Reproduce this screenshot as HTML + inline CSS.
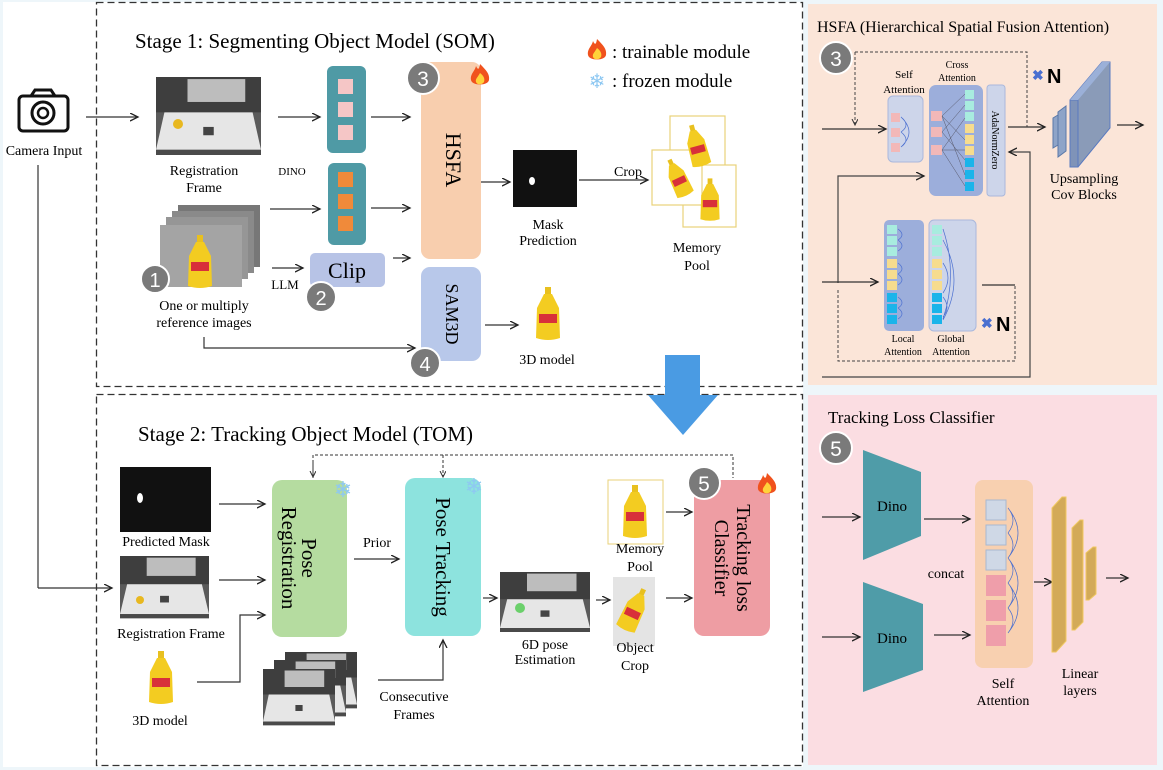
<!DOCTYPE html>
<html><head><meta charset="utf-8"><style>
html,body{margin:0;padding:0;background:#fff;}
svg{display:block;font-family:"Liberation Serif",serif;}
.s{font-family:"Liberation Sans",sans-serif;}
</style></head><body>
<svg width="1163" height="770" viewBox="0 0 1163 770" xmlns="http://www.w3.org/2000/svg">
<defs>
<marker id="a" markerWidth="10" markerHeight="10" refX="8" refY="4" orient="auto" markerUnits="userSpaceOnUse"><path d="M0,0 L8,4 L0,8" fill="none" stroke="#222" stroke-width="1.3"/></marker>
<marker id="as" markerWidth="8" markerHeight="8" refX="6" refY="3" orient="auto" markerUnits="userSpaceOnUse"><path d="M0,0 L6,3 L0,6" fill="none" stroke="#333" stroke-width="1"/></marker>
<g id="photo">
<rect x="0" y="0" width="100" height="75" fill="#5a5a5a"/>
<rect x="0" y="0" width="100" height="34" fill="#3e3e3e"/>
<rect x="30" y="2" width="55" height="22" fill="#bdbdbd"/>
<polygon points="8,34 92,34 100,70 0,70" fill="#e6e6e6"/>
<rect x="45" y="48" width="10" height="8" fill="#444"/>
<rect x="0" y="70" width="100" height="5" fill="#4a4a4a"/>
</g>
<g id="flame">
<path d="M0,-12 C6,-6 10,-2 9,4 C8,10 -8,10 -9,4 C-10,-2 -5,-5 -4,-10 C-2,-6 -1,-6 0,-12Z" fill="#f0521d"/>
<path d="M0,-3 C4,0 5,3 4,6 C2,9 -3,9 -4,6 C-5,3 -2,1 0,-3Z" fill="#ffd23a"/>
</g>
<g id="mustard">
<rect x="-3" y="-27" width="6" height="8" fill="#e8c01f"/>
<path d="M-4,-20 L4,-20 L11,-6 L12,24 Q0,28 -12,24 L-11,-6Z" fill="#f3cc21"/>
<rect x="-9" y="0" width="18" height="9" fill="#d8303a"/>
</g>
</defs>

<rect x="0" y="0" width="1163" height="770" fill="#eef6fa"/>
<rect x="3" y="2" width="800" height="765" fill="#fff"/>

<rect x="96.5" y="2.5" width="706" height="384" fill="none" stroke="#333" stroke-width="1.3" stroke-dasharray="7,4"/>
<rect x="96.5" y="394.5" width="706" height="371" fill="none" stroke="#333" stroke-width="1.3" stroke-dasharray="7,4"/>

<rect x="19" y="96" width="49" height="35" rx="4" fill="none" stroke="#111" stroke-width="3"/>
<path d="M31,96 L35,90 L51,90 L55,96" fill="none" stroke="#111" stroke-width="3"/>
<circle cx="43" cy="113" r="11" fill="none" stroke="#111" stroke-width="3"/>
<circle cx="43" cy="113" r="5" fill="none" stroke="#111" stroke-width="2.5"/>
<text x="44" y="155" font-size="14" text-anchor="middle">Camera Input</text>
<line x1="38" y1="165" x2="38" y2="588" stroke="#333" stroke-width="1.2"/>
<line x1="38" y1="588" x2="112" y2="588" stroke="#333" stroke-width="1.2" marker-end="url(#a)"/>
<line x1="86" y1="117" x2="138" y2="117" stroke="#333" stroke-width="1.2" marker-end="url(#a)"/>

<text x="135" y="48" font-size="21">Stage 1: Segmenting Object Model (SOM)</text>
<use href="#flame" x="597" y="51"/>
<text x="612" y="58" font-size="19">: trainable module</text>
<text x="597" y="88" font-size="20" fill="#8ec8f2" text-anchor="middle" class="s">❄</text>
<text x="612" y="87" font-size="19">: frozen module</text>

<use href="#photo" transform="translate(156,77) scale(1.05,1.04)"/>
<circle cx="178" cy="124" r="5" fill="#e8b820"/>
<text x="204" y="175" font-size="14" text-anchor="middle">Registration</text>
<text x="204" y="192" font-size="14" text-anchor="middle">Frame</text>
<text x="292" y="175" font-size="11" text-anchor="middle">DINO</text>

<line x1="278" y1="117" x2="320" y2="117" stroke="#333" stroke-width="1.2" marker-end="url(#a)"/>
<rect x="327" y="66" width="39" height="87" rx="6" fill="#4f9aa5"/>
<rect x="338" y="79" width="15" height="15" fill="#f5c6c6"/><rect x="338" y="102" width="15" height="15" fill="#f5c6c6"/><rect x="338" y="125" width="15" height="15" fill="#f5c6c6"/>
<line x1="371" y1="117" x2="410" y2="117" stroke="#333" stroke-width="1.2" marker-end="url(#a)"/>

<g transform="translate(160,205)">
<rect x="18" y="0" width="82" height="62" fill="#777"/>
<rect x="12" y="6" width="82" height="62" fill="#8a8a8a"/>
<rect x="6" y="12" width="82" height="62" fill="#969696"/>
<rect x="0" y="20" width="82" height="62" fill="#a4a4a4"/>
</g>
<use href="#mustard" x="200" y="262"/>
<line x1="270" y1="209" x2="320" y2="209" stroke="#333" stroke-width="1.2" marker-end="url(#a)"/>
<rect x="328" y="163" width="38" height="82" rx="6" fill="#4f9aa5"/>
<rect x="338" y="172" width="15" height="15" fill="#f08a3a"/><rect x="338" y="194" width="15" height="15" fill="#f08a3a"/><rect x="338" y="216" width="15" height="15" fill="#f08a3a"/>
<line x1="371" y1="208" x2="410" y2="208" stroke="#333" stroke-width="1.2" marker-end="url(#a)"/>
<circle cx="155" cy="279" r="14" fill="#7a7a7a" stroke="#fff" stroke-width="2"/>
<text x="155" y="287" font-size="20" fill="#fff" text-anchor="middle" class="s">1</text>
<text x="204" y="310" font-size="14" text-anchor="middle">One or  multiply</text>
<text x="204" y="327" font-size="14" text-anchor="middle">reference images</text>

<line x1="272" y1="268" x2="303" y2="268" stroke="#333" stroke-width="1.2" marker-end="url(#a)"/>
<text x="285" y="289" font-size="13" text-anchor="middle">LLM</text>
<rect x="310" y="253" width="75" height="34" rx="5" fill="#b7c3e6"/>
<text x="347" y="278" font-size="22" text-anchor="middle">Clip</text>
<circle cx="321" cy="297" r="15" fill="#7a7a7a" stroke="#fff" stroke-width="2"/>
<text x="321" y="305" font-size="20" fill="#fff" text-anchor="middle" class="s">2</text>
<line x1="393" y1="258" x2="410" y2="258" stroke="#333" stroke-width="1.2" marker-end="url(#a)"/>

<rect x="421" y="62" width="60" height="197" rx="9" fill="#f8ceae"/>
<text transform="translate(446,160) rotate(90)" font-size="22" text-anchor="middle">HSFA</text>
<circle cx="423" cy="78" r="16" fill="#7a7a7a" stroke="#fff" stroke-width="2"/>
<text x="423" y="86" font-size="21" fill="#fff" text-anchor="middle" class="s">3</text>
<use href="#flame" x="480" y="76"/>

<rect x="421" y="267" width="60" height="94" rx="9" fill="#b8c8ea"/>
<text transform="translate(446,314) rotate(90)" font-size="18" text-anchor="middle">SAM3D</text>
<circle cx="425" cy="363" r="15" fill="#7a7a7a" stroke="#fff" stroke-width="2"/>
<text x="425" y="371" font-size="20" fill="#fff" text-anchor="middle" class="s">4</text>
<path d="M204,337 L204,348 L415,348" fill="none" stroke="#333" stroke-width="1.2" marker-end="url(#a)"/>
<line x1="485" y1="325" x2="518" y2="325" stroke="#333" stroke-width="1.2" marker-end="url(#a)"/>
<use href="#mustard" x="548" y="314"/>
<text x="547" y="364" font-size="14" text-anchor="middle">3D model</text>

<line x1="481" y1="182" x2="510" y2="182" stroke="#333" stroke-width="1.2" marker-end="url(#a)"/>
<rect x="513" y="150" width="64" height="57" fill="#111"/>
<ellipse cx="532" cy="181" rx="3" ry="4" fill="#fff"/>
<text x="548" y="229" font-size="14" text-anchor="middle">Mask</text>
<text x="548" y="245" font-size="14" text-anchor="middle">Prediction</text>
<line x1="579" y1="180" x2="648" y2="180" stroke="#333" stroke-width="1.2" marker-end="url(#a)"/>
<text x="628" y="176" font-size="14" text-anchor="middle">Crop</text>
<g stroke="#e8d27a" stroke-width="1.2" fill="#fff">
<rect x="670" y="116" width="55" height="62"/>
<rect x="683" y="165" width="53" height="62"/>
<rect x="652" y="150" width="50" height="55"/>
</g>
<use href="#mustard" transform="translate(697,146) scale(0.8) rotate(-15)"/>
<use href="#mustard" transform="translate(678,178) scale(0.75) rotate(-25)"/>
<use href="#mustard" transform="translate(710,200) scale(0.8)"/>
<text x="697" y="252" font-size="14" text-anchor="middle">Memory</text>
<text x="697" y="270" font-size="14" text-anchor="middle">Pool</text>

<polygon points="665,355 700,355 700,395 718,395 683,435 648,395 665,395" fill="#4a9be3"/>

<text x="138" y="441" font-size="21">Stage 2: Tracking Object Model (TOM)</text>
<path d="M313,478 L313,455 L733,455 L733,478" fill="none" stroke="#333" stroke-width="1" stroke-dasharray="3,2"/>
<line x1="313" y1="460" x2="313" y2="477" stroke="#333" marker-end="url(#as)"/>
<line x1="443" y1="455" x2="443" y2="477" stroke="#333" stroke-dasharray="3,2" marker-end="url(#as)"/>

<rect x="120" y="467" width="91" height="65" fill="#111"/>
<ellipse cx="140" cy="498" rx="3" ry="5" fill="#fff"/>
<text x="166" y="546" font-size="14" text-anchor="middle">Predicted Mask</text>
<use href="#photo" transform="translate(120,556) scale(0.89,0.83)"/>
<circle cx="140" cy="600" r="4" fill="#e8b820"/>
<text x="171" y="638" font-size="14" text-anchor="middle">Registration Frame</text>
<use href="#mustard" x="161" y="678"/>
<text x="160" y="725" font-size="14" text-anchor="middle">3D model</text>
<line x1="219" y1="504" x2="265" y2="504" stroke="#333" stroke-width="1.2" marker-end="url(#a)"/>
<line x1="219" y1="580" x2="265" y2="580" stroke="#333" stroke-width="1.2" marker-end="url(#a)"/>
<path d="M197,682 L240,682 L240,615 L265,615" fill="none" stroke="#333" stroke-width="1.2" marker-end="url(#a)"/>

<rect x="272" y="480" width="75" height="157" rx="10" fill="#b5dca0"/>
<text transform="translate(302,558) rotate(90)" font-size="21" text-anchor="middle">Pose</text>
<text transform="translate(282,558) rotate(90)" font-size="21" text-anchor="middle">Registration</text>
<text x="343" y="497" font-size="22" fill="#8ec8f2" text-anchor="middle" class="s">❄</text>
<text x="377" y="547" font-size="14" text-anchor="middle">Prior</text>
<line x1="354" y1="559" x2="399" y2="559" stroke="#333" stroke-width="1.2" marker-end="url(#a)"/>

<rect x="405" y="478" width="76" height="158" rx="10" fill="#8de3de"/>
<text transform="translate(436,557) rotate(90)" font-size="21" text-anchor="middle">Pose Tracking</text>
<text x="474" y="494" font-size="22" fill="#8ec8f2" text-anchor="middle" class="s">❄</text>

<g transform="translate(263,652)">
<use href="#photo" transform="translate(22,0) scale(0.72,0.75)"/>
<use href="#photo" transform="translate(11,8) scale(0.72,0.75)"/>
<use href="#photo" transform="translate(0,17) scale(0.72,0.75)"/>
</g>
<path d="M378,680 L443,680 L443,640" fill="none" stroke="#333" stroke-width="1.2" marker-end="url(#a)"/>
<text x="414" y="701" font-size="14" text-anchor="middle">Consecutive</text>
<text x="414" y="719" font-size="14" text-anchor="middle">Frames</text>

<line x1="483" y1="598" x2="497" y2="598" stroke="#333" stroke-width="1.2" marker-end="url(#a)"/>
<use href="#photo" transform="translate(500,572) scale(0.9,0.8)"/>
<circle cx="520" cy="608" r="5" fill="#6bd06b"/>
<text x="545" y="649" font-size="14" text-anchor="middle">6D pose</text>
<text x="545" y="664" font-size="14" text-anchor="middle">Estimation</text>
<line x1="596" y1="600" x2="610" y2="600" stroke="#333" stroke-width="1.2" marker-end="url(#a)"/>
<rect x="613" y="577" width="42" height="69" fill="#e4e4e4"/>
<use href="#mustard" transform="translate(634,610) scale(0.85) rotate(25)"/>
<text x="635" y="652" font-size="14" text-anchor="middle">Object</text>
<text x="635" y="670" font-size="14" text-anchor="middle">Crop</text>
<rect x="608" y="480" width="55" height="64" fill="#fff" stroke="#e8d27a"/>
<use href="#mustard" x="635" y="512"/>
<text x="640" y="553" font-size="14" text-anchor="middle">Memory</text>
<text x="640" y="571" font-size="14" text-anchor="middle">Pool</text>
<line x1="666" y1="512" x2="692" y2="512" stroke="#333" stroke-width="1.2" marker-end="url(#a)"/>
<line x1="666" y1="598" x2="692" y2="598" stroke="#333" stroke-width="1.2" marker-end="url(#a)"/>

<rect x="694" y="480" width="76" height="156" rx="10" fill="#ee9da3"/>
<text transform="translate(737,558) rotate(90)" font-size="20" text-anchor="middle">Tracking loss</text>
<text transform="translate(715,558) rotate(90)" font-size="20" text-anchor="middle">Classifier</text>
<circle cx="704" cy="483" r="16" fill="#7a7a7a" stroke="#fff" stroke-width="2"/>
<text x="704" y="491" font-size="21" fill="#fff" text-anchor="middle" class="s">5</text>
<use href="#flame" x="767" y="485"/>

<rect x="808" y="4" width="349" height="381" fill="#fbe5d8"/>
<text x="817" y="32" font-size="16">HSFA (Hierarchical Spatial Fusion Attention)</text>
<circle cx="836" cy="58" r="16" fill="#7a7a7a" stroke="#fff" stroke-width="2"/>
<text x="836" y="66" font-size="21" fill="#fff" text-anchor="middle" class="s">3</text>
<path d="M855,52 L1027,52 L1027,127" fill="none" stroke="#444" stroke-dasharray="3,2"/>
<line x1="855" y1="52" x2="855" y2="125" stroke="#444" stroke-dasharray="3,2" marker-end="url(#as)"/>
<line x1="822" y1="129" x2="886" y2="129" stroke="#333" stroke-width="1.2" marker-end="url(#a)"/>
<text x="904" y="78" font-size="11" text-anchor="middle">Self</text>
<text x="904" y="93" font-size="11" text-anchor="middle">Attention</text>
<rect x="888" y="96" width="35" height="66" rx="5" fill="#cdd5ea" stroke="#aab8dc"/>
<rect x="891" y="113" width="9" height="9" fill="#f2b8b8"/><rect x="891" y="128" width="9" height="9" fill="#f2b8b8"/><rect x="891" y="143" width="9" height="9" fill="#f2b8b8"/>
<path d="M901,117 q10,8 0,15 M901,132 q10,8 0,15 M901,117 q16,15 0,30" fill="none" stroke="#4a6fd0" stroke-width="0.7"/>
<text x="957" y="68" font-size="10" text-anchor="middle">Cross</text>
<text x="957" y="81" font-size="10" text-anchor="middle">Attention</text>
<rect x="929" y="85" width="54" height="111" rx="7" fill="#9caedb"/>
<rect x="931" y="111" width="11" height="10" fill="#f2b8b8"/><rect x="931" y="127" width="11" height="10" fill="#f2b8b8"/><rect x="931" y="145" width="11" height="10" fill="#f2b8b8"/>
<g fill="#a8ecdf"><rect x="965" y="90" width="9" height="9"/><rect x="965" y="101" width="9" height="9"/><rect x="965" y="112" width="9" height="9"/></g>
<g fill="#f6dc8e"><rect x="965" y="124" width="9" height="9"/><rect x="965" y="135" width="9" height="9"/><rect x="965" y="146" width="9" height="9"/></g>
<g fill="#1ab4ea"><rect x="965" y="158" width="9" height="9"/><rect x="965" y="170" width="9" height="9"/><rect x="965" y="182" width="9" height="9"/></g>
<g stroke="#556" stroke-width="0.5"><line x1="942" y1="116" x2="965" y2="94"/><line x1="942" y1="116" x2="965" y2="140"/><line x1="942" y1="116" x2="965" y2="175"/><line x1="942" y1="132" x2="965" y2="105"/><line x1="942" y1="132" x2="965" y2="160"/><line x1="942" y1="150" x2="965" y2="118"/><line x1="942" y1="150" x2="965" y2="186"/><line x1="942" y1="150" x2="965" y2="150"/></g>
<rect x="987" y="85" width="18" height="111" rx="3" fill="#cdd5ea" stroke="#aab8dc"/>
<text transform="translate(992,140) rotate(90)" font-size="10" text-anchor="middle">AdaNormZero</text>
<line x1="1008" y1="127" x2="1045" y2="127" stroke="#333" stroke-width="1.2" marker-end="url(#a)"/>
<text x="1032" y="80" font-size="14" fill="#4a6fd0" class="s" font-weight="bold">✖</text>
<text x="1047" y="83" font-size="20" class="s" font-weight="bold">N</text>
<polygon points="1053,118 1058,115 1058,145 1053,148" fill="#8ea4c8" stroke="#5a78a8"/>
<polygon points="1058,112 1066,106 1066,151 1058,157" fill="#8ea4c8" stroke="#5a78a8"/>
<polygon points="1070,100 1102,62 1110,62 1110,128 1078,167 1070,167" fill="#8a9bb8" stroke="#5a7ac0"/>
<polygon points="1070,100 1078,100 1078,167 1070,167" fill="#7f93b8" stroke="#5a7ac0"/>
<polygon points="1070,100 1102,62 1110,62 1078,100" fill="#9bb0d8"/>
<text x="1084" y="183" font-size="14" text-anchor="middle">Upsampling</text>
<text x="1084" y="199" font-size="14" text-anchor="middle">Cov Blocks</text>
<line x1="1117" y1="125" x2="1143" y2="125" stroke="#333" stroke-width="1.2" marker-end="url(#a)"/>
<path d="M822,377 L1030,377 L1030,152 L1009,152" fill="none" stroke="#444" stroke-width="1.2" marker-end="url(#a)"/>
<path d="M838,283 L838,176 L924,176" fill="none" stroke="#444" stroke-width="1.2" marker-end="url(#a)"/>
<line x1="822" y1="282" x2="878" y2="282" stroke="#333" stroke-width="1.2" marker-end="url(#a)"/>
<path d="M838,290 L838,361 L1015,361 L1015,285 L982,285" fill="none" stroke="#444" stroke-dasharray="3,2"/>
<line x1="1015" y1="285" x2="982" y2="285" stroke="#333" stroke-width="1.2"/>
<rect x="884" y="220" width="40" height="111" rx="5" fill="#9caedb"/>
<rect x="929" y="220" width="47" height="111" rx="5" fill="#cdd5ea" stroke="#aab8dc"/>
<g fill="#a8ecdf"><rect x="887" y="225" width="10" height="9"/><rect x="887" y="236" width="10" height="9"/><rect x="887" y="247" width="10" height="9"/><rect x="932" y="225" width="10" height="9"/><rect x="932" y="236" width="10" height="9"/><rect x="932" y="247" width="10" height="9"/></g>
<g fill="#f6dc8e"><rect x="887" y="259" width="10" height="9"/><rect x="887" y="270" width="10" height="9"/><rect x="887" y="281" width="10" height="9"/><rect x="932" y="259" width="10" height="9"/><rect x="932" y="270" width="10" height="9"/><rect x="932" y="281" width="10" height="9"/></g>
<g fill="#1ab4ea"><rect x="887" y="293" width="10" height="9"/><rect x="887" y="304" width="10" height="9"/><rect x="887" y="315" width="10" height="9"/><rect x="932" y="293" width="10" height="9"/><rect x="932" y="304" width="10" height="9"/><rect x="932" y="315" width="10" height="9"/></g>
<path d="M898,229 q8,6 0,11 M898,240 q8,6 0,11 M898,263 q8,6 0,11 M898,274 q8,6 0,11 M898,297 q8,6 0,11 M898,308 q8,6 0,11 M943,229 q15,45 0,90 M943,240 q22,40 0,80 M943,263 q10,15 0,30 M943,297 q8,10 0,20" fill="none" stroke="#4a6fd0" stroke-width="0.7"/>
<text x="903" y="342" font-size="10" text-anchor="middle">Local</text>
<text x="903" y="355" font-size="10" text-anchor="middle">Attention</text>
<text x="951" y="342" font-size="10" text-anchor="middle">Global</text>
<text x="951" y="355" font-size="10" text-anchor="middle">Attention</text>
<text x="981" y="328" font-size="14" fill="#4a6fd0" class="s" font-weight="bold">✖</text>
<text x="996" y="331" font-size="20" class="s" font-weight="bold">N</text>

<rect x="808" y="395" width="349" height="370" fill="#fbdde2"/>
<text x="828" y="423" font-size="17">Tracking Loss Classifier</text>
<circle cx="836" cy="448" r="16" fill="#7a7a7a" stroke="#fff" stroke-width="2"/>
<text x="836" y="456" font-size="21" fill="#fff" text-anchor="middle" class="s">5</text>
<polygon points="863,450 921,472 921,536 863,560" fill="#4f9ca8"/>
<text x="892" y="511" font-size="15" text-anchor="middle">Dino</text>
<polygon points="863,582 923,604 923,670 863,692" fill="#4f9ca8"/>
<text x="892" y="643" font-size="15" text-anchor="middle">Dino</text>
<line x1="822" y1="517" x2="860" y2="517" stroke="#333" stroke-width="1.2" marker-end="url(#a)"/>
<line x1="822" y1="637" x2="860" y2="637" stroke="#333" stroke-width="1.2" marker-end="url(#a)"/>
<line x1="924" y1="519" x2="970" y2="519" stroke="#333" stroke-width="1.2" marker-end="url(#a)"/>
<line x1="934" y1="635" x2="970" y2="635" stroke="#333" stroke-width="1.2" marker-end="url(#a)"/>
<text x="946" y="578" font-size="14" text-anchor="middle">concat</text>
<rect x="975" y="480" width="58" height="188" rx="8" fill="#f8d0b0"/>
<g fill="#cfd8e6" stroke="#a8b8d0"><rect x="986" y="500" width="20" height="20"/><rect x="986" y="525" width="20" height="20"/><rect x="986" y="550" width="20" height="20"/></g>
<g fill="#ef9eaa"><rect x="986" y="575" width="20" height="21"/><rect x="986" y="600" width="20" height="21"/><rect x="986" y="625" width="20" height="21"/></g>
<path d="M1008,508 q10,12 0,25 M1008,533 q10,12 0,25 M1008,558 q10,12 0,25 M1008,583 q10,12 0,25 M1008,608 q10,12 0,25 M1008,508 q20,25 0,50 M1008,558 q20,25 0,50 M1008,583 q20,25 0,50" fill="none" stroke="#4a6fd0" stroke-width="0.7"/>
<text x="1003" y="688" font-size="14" text-anchor="middle">Self</text>
<text x="1003" y="705" font-size="14" text-anchor="middle">Attention</text>
<line x1="1034" y1="582" x2="1052" y2="582" stroke="#333" stroke-width="1.2" marker-end="url(#a)"/>
<polygon points="1052,508 1062,497 1066,497 1066,641 1056,652 1052,652" fill="#d3aa58" stroke="#f0c860"/>
<polygon points="1072,528 1080,520 1083,520 1083,622 1075,630 1072,630" fill="#d3aa58" stroke="#f0c860"/>
<polygon points="1086,553 1093,547 1096,547 1096,594 1089,600 1086,600" fill="#d3aa58" stroke="#f0c860"/>
<text x="1080" y="678" font-size="14" text-anchor="middle">Linear</text>
<text x="1080" y="695" font-size="14" text-anchor="middle">layers</text>
<line x1="1106" y1="578" x2="1128" y2="578" stroke="#333" stroke-width="1.2" marker-end="url(#a)"/>
</svg>
</body></html>
